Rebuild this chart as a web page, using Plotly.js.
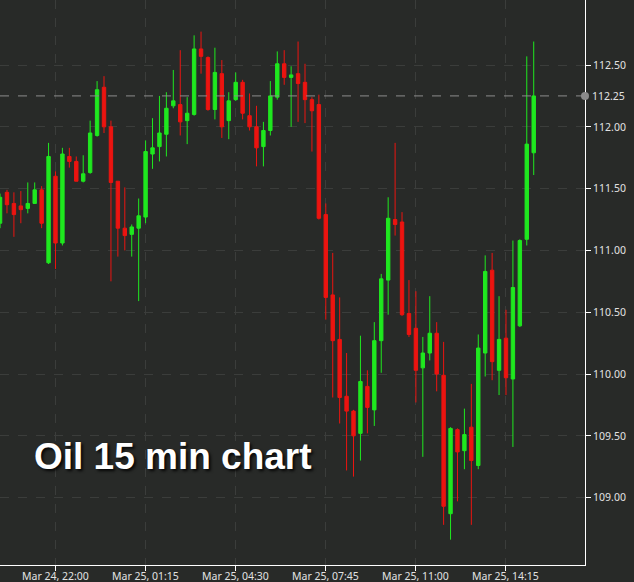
<!DOCTYPE html>
<html>
<head>
<meta charset="utf-8">
<script src="https://cdn.plot.ly/plotly-3.0.1.min.js"></script>
<style>
html,body{margin:0;padding:0;background:#282a28;}
#chart{width:634px;height:582px;}
</style>
</head>
<body>
<div id="chart"></div>
<script>
// 15-minute bars, Mar 24 20:00 -> Mar 25 15:15
const times = [
"2022-03-24 20:00","2022-03-24 20:15","2022-03-24 20:30","2022-03-24 20:45",
"2022-03-24 21:00","2022-03-24 21:15","2022-03-24 21:30","2022-03-24 21:45",
"2022-03-24 22:00","2022-03-24 22:15","2022-03-24 22:30","2022-03-24 22:45",
"2022-03-24 23:00","2022-03-24 23:15","2022-03-24 23:30","2022-03-24 23:45",
"2022-03-25 00:00","2022-03-25 00:15","2022-03-25 00:30","2022-03-25 00:45",
"2022-03-25 01:00","2022-03-25 01:15","2022-03-25 01:30","2022-03-25 01:45",
"2022-03-25 02:00","2022-03-25 02:15","2022-03-25 02:30","2022-03-25 02:45",
"2022-03-25 03:00","2022-03-25 03:15","2022-03-25 03:30","2022-03-25 03:45",
"2022-03-25 04:00","2022-03-25 04:15","2022-03-25 04:30","2022-03-25 04:45",
"2022-03-25 05:00","2022-03-25 05:15","2022-03-25 05:30","2022-03-25 05:45",
"2022-03-25 06:00","2022-03-25 06:15","2022-03-25 06:30","2022-03-25 06:45",
"2022-03-25 07:00","2022-03-25 07:15","2022-03-25 07:30","2022-03-25 07:45",
"2022-03-25 08:00","2022-03-25 08:15","2022-03-25 08:30","2022-03-25 08:45",
"2022-03-25 09:00","2022-03-25 09:15","2022-03-25 09:30","2022-03-25 09:45",
"2022-03-25 10:00","2022-03-25 10:15","2022-03-25 10:30","2022-03-25 10:45",
"2022-03-25 11:00","2022-03-25 11:15","2022-03-25 11:30","2022-03-25 11:45",
"2022-03-25 12:00","2022-03-25 12:15","2022-03-25 12:30","2022-03-25 12:45",
"2022-03-25 13:00","2022-03-25 13:15","2022-03-25 13:30","2022-03-25 13:45",
"2022-03-25 14:00","2022-03-25 14:15","2022-03-25 14:30","2022-03-25 14:45",
"2022-03-25 15:00","2022-03-25 15:15"
];
const open = [
111.22,111.47,111.38,111.36,111.34,111.38,111.49,110.90,111.60,111.06,
111.76,111.72,111.56,111.63,111.93,112.32,112.00,111.56,111.18,111.13,
111.18,111.27,111.78,111.84,111.94,112.17,112.18,112.05,112.10,112.63,
112.56,112.14,112.43,112.05,112.22,112.36,112.09,112.00,111.84,111.97,
112.24,112.51,112.40,112.43,112.36,112.22,112.18,111.29,110.64,110.28,
109.82,109.70,109.52,109.90,109.71,110.27,110.76,111.25,111.23,110.49,
110.37,110.05,110.17,110.33,109.99,108.87,109.55,109.38,109.57,109.26,
110.17,110.84,110.03,110.29,109.96,110.39,111.09,111.79
];
const high = [
111.46,111.49,111.47,111.48,111.55,111.55,111.52,111.87,111.64,111.83,
111.83,111.76,111.77,112.05,112.37,112.41,112.05,111.56,111.51,111.21,
111.42,111.89,112.07,112.25,112.28,112.46,112.62,112.24,112.74,112.77,
112.57,112.64,112.54,112.28,112.44,112.38,112.27,112.17,112.04,112.37,
112.61,112.62,112.49,112.69,112.51,112.24,112.26,111.38,110.98,110.62,
110.17,109.71,110.31,110.03,110.42,110.81,111.43,111.87,111.31,110.76,
110.67,110.30,110.63,110.42,110.26,109.57,109.56,109.72,109.92,110.32,
110.96,110.98,110.63,110.52,111.08,111.09,112.57,112.69
];
const low = [
111.18,111.30,111.11,111.22,111.30,111.38,111.18,110.89,110.85,111.04,
111.67,111.56,111.55,111.62,111.92,111.95,110.75,110.95,111.00,110.95,
110.59,111.22,111.66,111.72,111.76,112.15,111.93,111.86,112.09,112.43,
112.13,112.06,111.91,111.90,112.21,112.06,111.97,111.68,111.68,111.93,
112.22,112.34,112.00,112.04,112.03,111.80,111.25,110.44,109.81,109.60,
109.22,109.17,109.30,109.52,109.58,110.01,110.48,111.12,110.47,110.30,
109.77,109.33,110.11,109.86,108.78,108.66,108.97,109.23,108.78,109.23,
109.98,109.95,109.83,109.83,109.41,110.38,111.04,111.61
];
const close = [
111.43,111.37,111.29,111.33,111.38,111.49,111.22,111.76,111.06,111.78,
111.72,111.56,111.62,111.95,112.30,112.00,111.55,111.18,111.12,111.19,
111.28,111.80,111.83,111.95,112.15,112.21,112.04,112.11,112.63,112.57,
112.14,112.44,112.00,112.21,112.36,112.11,112.00,111.83,111.97,112.25,
112.51,112.40,112.42,112.35,112.22,112.13,111.26,110.62,110.27,109.81,
109.70,109.50,109.94,109.73,110.27,110.77,111.26,111.21,110.48,110.32,
110.03,110.17,110.33,110.00,108.93,109.56,109.37,109.51,109.30,110.21,
110.83,110.10,110.28,109.97,110.70,111.08,111.86,112.25
];
const xTickVals = ["2022-03-24 22:00","2022-03-25 01:15","2022-03-25 04:30","2022-03-25 07:45","2022-03-25 11:00","2022-03-25 14:15"];
const xTickText = ["Mar 24, 22:00","Mar 25, 01:15","Mar 25, 04:30","Mar 25, 07:45","Mar 25, 11:00","Mar 25, 14:15"];
const yTickVals = [109.0,109.5,110.0,110.5,111.0,111.5,112.0,112.5];
const yTickText = ["109.00","109.50","110.00","110.50","111.00","111.50","112.00","112.50"];
const chartTitle = "Oil 15 min chart";

const lastPrice = close[close.length - 1];
const bg = '#282a28';
const tickFont = {family: 'Noto Sans, sans-serif', size: 10.5, color: '#e2e2e2'};

const trace = {
  type: 'candlestick',
  x: times, open: open, high: high, low: low, close: close,
  increasing: {line: {color: '#1fe81f', width: 1}, fillcolor: '#1fe81f'},
  decreasing: {line: {color: '#ec1410', width: 1}, fillcolor: '#ec1410'},
  whiskerwidth: 0,
  hoverinfo: 'skip'
};

const xLabelAnnotations = xTickVals.map((v, i) => ({
  xref: 'x', yref: 'paper', x: v, y: 0, xanchor: 'center', yanchor: 'top',
  yshift: -2, text: xTickText[i], showarrow: false, font: tickFont
}));

const layout = {
  width: 634, height: 582,
  margin: {l: 0, r: 49, t: 0, b: 17, pad: 0},
  paper_bgcolor: bg, plot_bgcolor: bg,
  showlegend: false,
  xaxis: {
    type: 'date',
    range: ["2022-03-24 19:59:54", "2022-03-25 17:06"],
    rangeslider: {visible: false},
    tickmode: 'array', tickvals: xTickVals, ticktext: xTickText,
    showticklabels: false,
    ticks: 'outside', ticklen: 5, tickcolor: '#ffffff', tickwidth: 1,
    showline: true, linecolor: '#ffffff', linewidth: 1,
    showgrid: true, gridcolor: '#3b3d3b', griddash: 'dash', gridwidth: 1,
    zeroline: false, fixedrange: true
  },
  yaxis: {
    side: 'right',
    range: [108.455, 113.026],
    tickmode: 'array', tickvals: yTickVals, ticktext: yTickText,
    ticks: 'outside', ticklen: 5, tickcolor: '#ffffff', tickwidth: 1,
    showline: true, linecolor: '#ffffff', linewidth: 1,
    showgrid: true, gridcolor: '#3b3d3b', griddash: 'dash', gridwidth: 1,
    zeroline: false, tickfont: tickFont, fixedrange: true
  },
  shapes: [
    {type: 'line', xref: 'paper', x0: 0, x1: 1, yref: 'y', y0: lastPrice, y1: lastPrice,
     line: {color: '#8c8c8c', width: 1, dash: 'dash'}, layer: 'above'},
    {type: 'circle', xref: 'paper', yref: 'y', xsizemode: 'pixel', ysizemode: 'pixel',
     xanchor: 1, yanchor: lastPrice, x0: -4, x1: 4, y0: -4, y1: 4,
     fillcolor: '#8a8a8a', line: {width: 0}, layer: 'above'}
  ],
  annotations: [
    {xref: 'paper', yref: 'y', x: 1, y: lastPrice, xanchor: 'left', yanchor: 'middle',
     xshift: 5, text: lastPrice.toFixed(2), showarrow: false, font: tickFont},
    {xref: 'paper', yref: 'paper', x: 0.054, y: 0.192, xanchor: 'left', yanchor: 'middle',
     text: chartTitle, showarrow: false,
     font: {family: 'Liberation Sans, Arial, sans-serif', size: 37, weight: 'bold', color: '#ffffff',
            shadow: '2px 2px 3px rgba(0,0,0,0.85)'}}
  ].concat(xLabelAnnotations)
};

Plotly.newPlot('chart', [trace], layout, {staticPlot: true, displayModeBar: false});
</script>
</body>
</html>
